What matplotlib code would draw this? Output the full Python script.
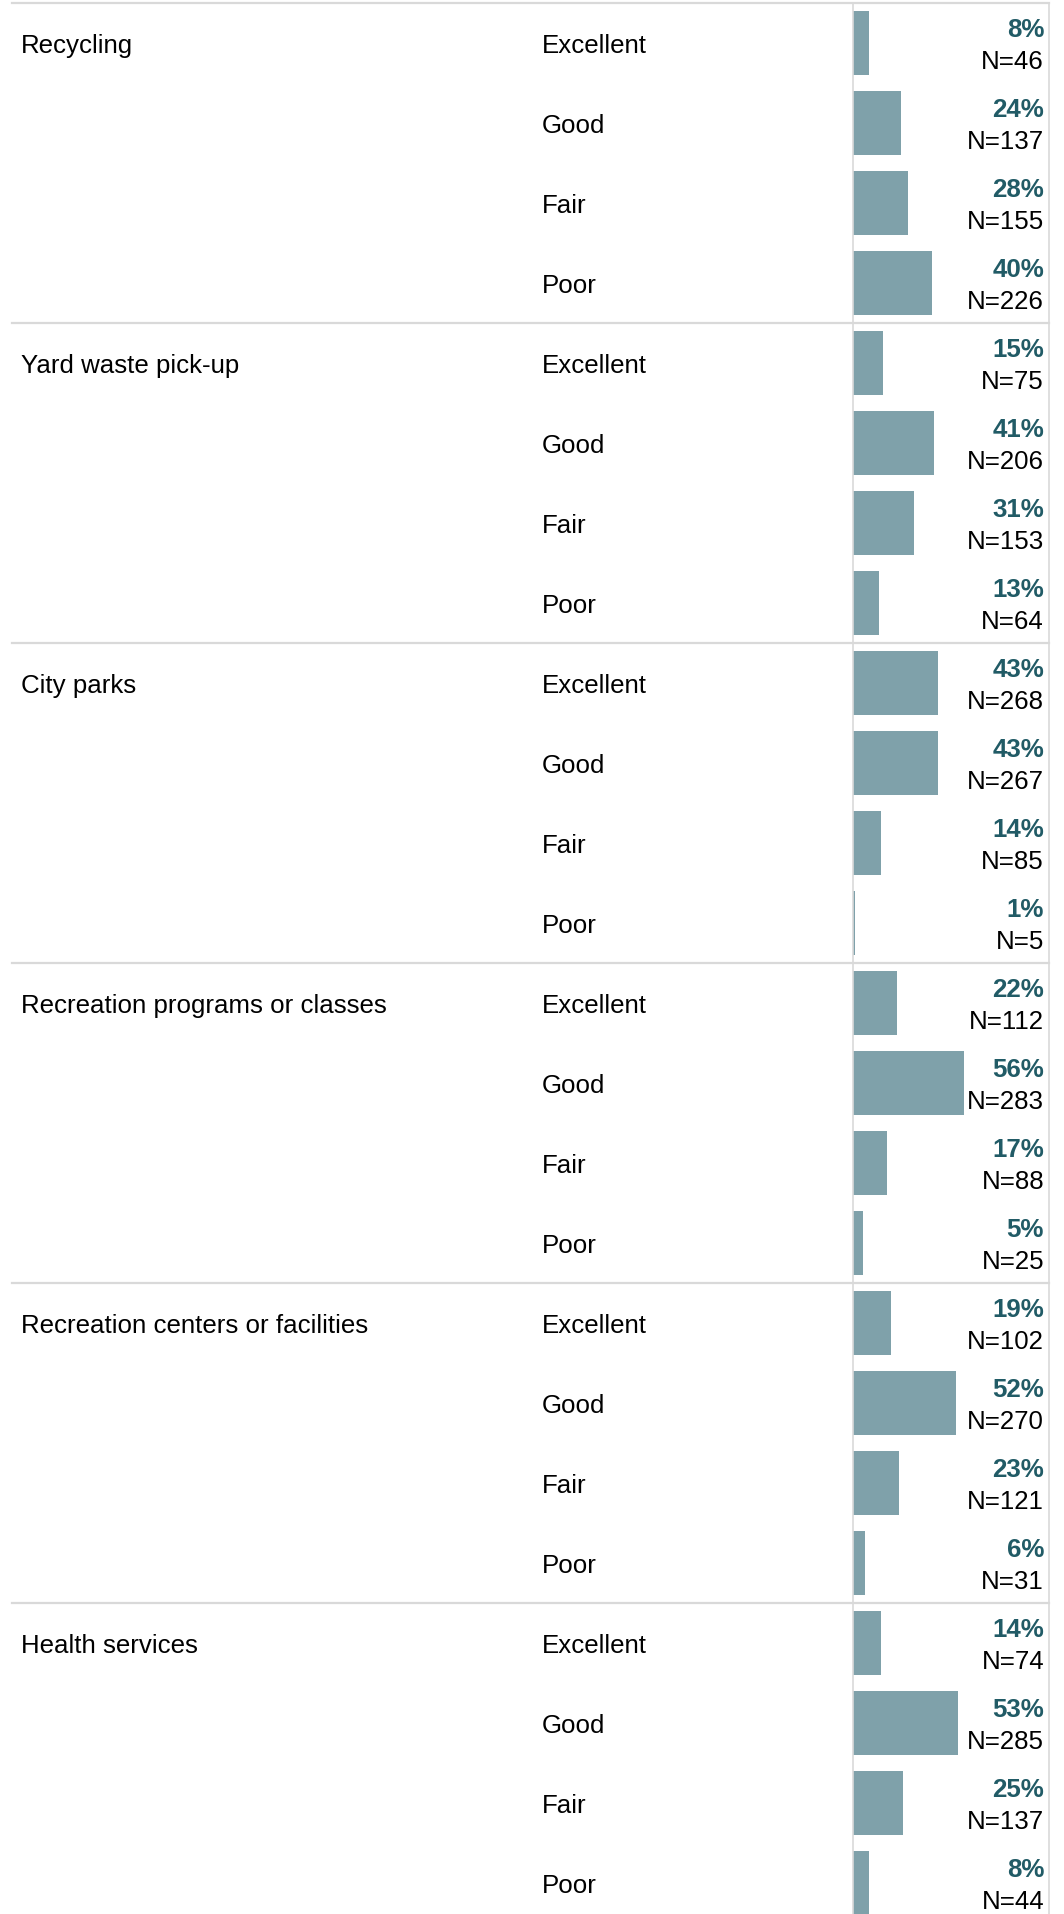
import matplotlib
matplotlib.use('Agg')
import matplotlib.pyplot as plt
import matplotlib.transforms as mtransforms
from matplotlib.lines import Line2D
import numpy as np

plt.rcParams['font.family'] = ['Liberation Sans', 'DejaVu Sans']

categories = ["Recycling", "Yard waste pick-up", "City parks",
              "Recreation programs or classes", "Recreation centers or facilities",
              "Health services"]
ratings = ["Excellent", "Good", "Fair", "Poor"]
percents = [[8, 24, 28, 40],
            [15, 41, 31, 13],
            [43, 43, 14, 1],
            [22, 56, 17, 5],
            [19, 52, 23, 6],
            [14, 53, 25, 8]]
counts = [[46, 137, 155, 226],
          [75, 206, 153, 64],
          [268, 267, 85, 5],
          [112, 283, 88, 25],
          [102, 270, 121, 31],
          [74, 285, 137, 44]]

W, H = 1064, 1915
fig = plt.figure(figsize=(W / 100, H / 100), dpi=100)

# pixel layout
top_px = 4
row_px = 80
n_rows = len(categories) * len(ratings)
bar_left_px, bar_right_px = 853, 1049
axes_h = n_rows * row_px
ax = fig.add_axes([bar_left_px / W, (H - top_px - axes_h) / H,
                   (bar_right_px - bar_left_px) / W, axes_h / H])

grid_col = '#d9d9d9'
bar_col = '#7fa1aa'
pct_col = '#215b66'
fs = 18.6

ax.set_xlim(0, (bar_right_px - bar_left_px) / 1.98)
ax.set_ylim(n_rows, 0)
ax.set_xticks([])
ax.set_yticks([])
for s in ['top', 'bottom']:
    ax.spines[s].set_visible(False)
for s in ['left', 'right']:
    ax.spines[s].set_color(grid_col)
    ax.spines[s].set_linewidth(1.2)

vals = np.array(percents).ravel()
ns = np.array(counts).ravel()
ys = np.arange(n_rows) + 0.5
ax.barh(ys, vals, height=0.79, color=bar_col, left=0)

tr = mtransforms.blended_transform_factory(fig.transFigure, ax.transData)
lab_x = 1044 / W

for i, cat in enumerate(categories):
    y0 = i * len(ratings)
    ax.text(21 / W, y0 + 0.61, cat, transform=tr, fontsize=fs, va='baseline',
            ha='left', color='black', clip_on=False)
    ax.add_line(Line2D([12 / W, bar_right_px / W], [y0, y0], transform=tr,
                       color=grid_col, lw=1.6, clip_on=False))
    for j, r in enumerate(ratings):
        k = y0 + j
        ax.text(542 / W, k + 0.61, r, transform=tr, fontsize=fs, va='baseline',
                ha='left', color='black', clip_on=False)
        ax.text(lab_x, k + 0.41, f"{vals[k]}%", transform=tr, fontsize=fs,
                fontweight='bold', color=pct_col, va='baseline', ha='right',
                clip_on=False)
        ax.text(lab_x, k + 0.81, f"N={ns[k]}", transform=tr, fontsize=fs,
                color='black', va='baseline', ha='right', clip_on=False)

fig.savefig('out.png', dpi=100)
